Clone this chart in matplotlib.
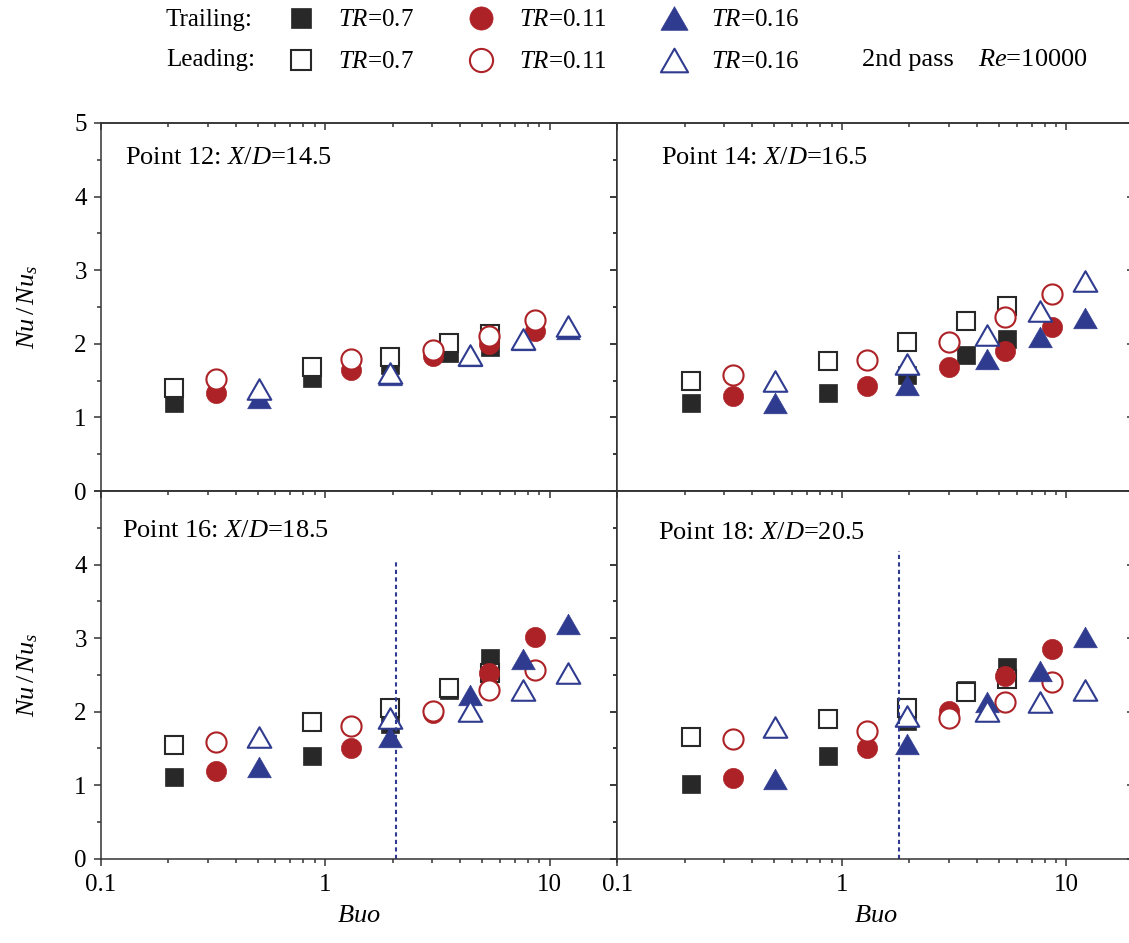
import numpy as np
import matplotlib
matplotlib.use('Agg')
import matplotlib.pyplot as plt
from matplotlib.path import Path
from matplotlib.ticker import FixedLocator, NullFormatter, MultipleLocator, LogLocator

config = {
    "font.family": 'Liberation Serif',
    "mathtext.fontset": 'custom',
    "mathtext.rm": 'Liberation Serif',
    "mathtext.it": 'Liberation Serif:italic',
    "axes.unicode_minus": False,
}
plt.rcParams.update(config)

# Buo positions of each TR series (same in all four panels)
buo_07 = [0.213, 0.87, 1.95, 3.57, 5.44]
buo_011 = [0.326, 1.30, 3.01, 5.35, 8.62]
buo_016 = [0.505, 1.95, 4.42, 7.59, 12.1]

titles = ['Point 12: $X/D$=14.5', 'Point 14: $X/D$=16.5',
          'Point 16: $X/D$=18.5', 'Point 18: $X/D$=20.5']

# trailing (filled) / leading (open) Nu/Nus, per point
tr07_trail = [[1.19, 1.53, 1.71, 1.88, 1.96], [1.20, 1.33, 1.57, 1.85, 2.06],
              [1.11, 1.39, 1.83, 2.30, 2.73], [1.02, 1.40, 1.87, 2.30, 2.61]]
tr07_lead = [[1.40, 1.69, 1.82, 2.01, 2.13], [1.49, 1.77, 2.02, 2.31, 2.52],
             [1.55, 1.86, 2.05, 2.32, 2.53], [1.66, 1.90, 2.05, 2.26, 2.45]]
tr011_trail = [[1.33, 1.65, 1.83, 2.00, 2.17], [1.29, 1.43, 1.68, 1.90, 2.23],
               [1.19, 1.51, 1.98, 2.53, 3.02], [1.10, 1.51, 2.01, 2.48, 2.85]]
tr011_lead = [[1.52, 1.79, 1.91, 2.10, 2.32], [1.57, 1.78, 2.02, 2.36, 2.67],
              [1.59, 1.80, 2.01, 2.29, 2.56], [1.63, 1.74, 1.92, 2.13, 2.40]]
tr016_trail = [[1.27, 1.57, 1.83, 2.05, 2.20], [1.20, 1.44, 1.79, 2.09, 2.35],
               [1.25, 1.65, 2.23, 2.72, 3.19], [1.09, 1.56, 2.13, 2.55, 3.02]]
tr016_lead = [[1.39, 1.60, 1.85, 2.07, 2.24], [1.50, 1.73, 2.12, 2.45, 2.85],
              [1.65, 1.92, 2.01, 2.29, 2.53], [1.79, 1.94, 2.01, 2.13, 2.29]]

# dotted marks in the lower panels: Buo, top of line
vline_buo = [None, None, 2.07, 1.80]
vline_top = [None, None, 4.08, 4.18]

c_k = '#282828'
c_r = '#ad2226'
c_b = '#2f3b8f'
c_ax = '#333333'
tri = Path([(-1.15, -1), (1.15, -1), (0, 1), (-1.15, -1)], closed=True)

fig = plt.figure(figsize=(11.29, 9.43), dpi=100)
W, H = 1129., 943.
pos = [(100.7, 123, 617.3, 491), (617.3, 123, 1134, 491),
       (100.7, 491, 617.3, 858.7), (617.3, 491, 1134, 858.7)]
axs = []
for (x0, y0, x1, y1) in pos:
    axs.append(fig.add_axes([x0 / W, (H - y1) / H, (x1 - x0) / W, (y1 - y0) / H]))

handles = []
for i, ax in enumerate(axs):
    h1, = ax.plot(buo_07, tr07_trail[i], ls='none', marker='s', ms=13, mfc=c_k, mec=c_k, mew=0.5)
    h2, = ax.plot(buo_07, tr07_lead[i], ls='none', marker='s', ms=13, mfc='white', mec=c_k, mew=1.5)
    h3, = ax.plot(buo_011, tr011_trail[i], ls='none', marker='o', ms=14.5, mfc=c_r, mec=c_r, mew=0.5)
    h4, = ax.plot(buo_011, tr011_lead[i], ls='none', marker='o', ms=14.5, mfc='white', mec=c_r, mew=1.5)
    h5, = ax.plot(buo_016, tr016_trail[i], ls='none', marker=tri, ms=17, mfc=c_b, mec=c_b, mew=0.5)
    h6, = ax.plot(buo_016, tr016_lead[i], ls='none', marker=tri, ms=17, mfc='white', mec=c_b, mew=1.5)
    if i == 0:
        handles = [h1, h2, h3, h4, h5, h6]
    if vline_buo[i] is not None:
        ax.vlines(vline_buo[i], 0, vline_top[i], colors=c_b, linestyles=(0, (2, 1.6)), lw=1.5)

    ax.set_xscale('log')
    ax.set_xlim(0.1, 20)
    ax.set_ylim(0, 5)
    ax.xaxis.set_major_locator(FixedLocator([0.1, 1, 10]))
    ax.yaxis.set_major_locator(MultipleLocator(1))
    ax.yaxis.set_minor_locator(MultipleLocator(0.5))
    # left/bottom ticks point out
    ax.tick_params(which='both', direction='out', top=False, right=False,
                   labelsize=18, width=1.1, color=c_ax)
    ax.tick_params(which='major', length=5)
    ax.tick_params(which='minor', length=3)
    ax.tick_params(axis='y', pad=5)
    ax.tick_params(axis='x', pad=6)
    for sp in ax.spines.values():
        sp.set_linewidth(1.1)
        sp.set_color(c_ax)
    # top/right ticks point in
    sx = ax.secondary_xaxis('top')
    sx.xaxis.set_major_locator(FixedLocator([0.1, 1, 10]))
    sx.xaxis.set_minor_locator(LogLocator(subs=np.arange(2, 10)))
    sx.tick_params(which='both', direction='in', labeltop=False, width=1.1, color=c_ax)
    sx.tick_params(which='major', length=5)
    sx.tick_params(which='minor', length=3)
    sx.spines['top'].set_linewidth(1.1)
    sx.spines['top'].set_color(c_ax)
    sy = ax.secondary_yaxis('right')
    sy.yaxis.set_major_locator(MultipleLocator(1))
    sy.yaxis.set_minor_locator(MultipleLocator(0.5))
    sy.tick_params(which='both', direction='in', labelright=False, width=1.1, color=c_ax)
    sy.tick_params(which='major', length=5)
    sy.tick_params(which='minor', length=3)
    sy.spines['right'].set_linewidth(1.1)
    sy.spines['right'].set_color(c_ax)

    if i in (0, 2):
        ax.set_ylabel('$Nu\\,/\\,Nu_s$', fontsize=19)
        ax.yaxis.set_label_coords(-0.118, 0.5)
        if i == 2:
            ax.set_yticks([0, 1, 2, 3, 4, 5])
            ax.set_yticklabels(['0', '1', '2', '3', '4', ''])
    else:
        ax.yaxis.set_major_formatter(NullFormatter())
    if i in (2, 3):
        ax.set_xticklabels(['0.1', '1', '10'])
        ax.set_xlabel('$Buo$', fontsize=19)
        ax.xaxis.set_label_coords(0.5, -0.157)
        ax.xaxis.label.set_va('center')
    else:
        ax.xaxis.set_major_formatter(NullFormatter())
    ax.xaxis.set_minor_formatter(NullFormatter())

tx = [0.047, 0.085, 0.041, 0.079]
ty = [0.889, 0.889, 0.875, 0.869]
for i, ax in enumerate(axs):
    ax.text(tx[i], ty[i], titles[i], transform=ax.transAxes, fontsize=19, va='baseline', ha='left')

labels = ['$TR$=0.7', '$TR$=0.7', '$TR$=0.11', '$TR$=0.11', '$TR$=0.16', '$TR$=0.16']
fig.legend(handles, labels, ncol=3, loc='upper left', bbox_to_anchor=(288 / W, 1 - 9 / H),
           frameon=False, fontsize=18, handlelength=1.0, handletextpad=1.0, markerscale=1.15,
           columnspacing=2.2, labelspacing=0.78, borderpad=0, borderaxespad=0)
fig.text(166 / W, 1 - 20 / H, 'Trailing:', fontsize=18, va='center', ha='left')
fig.text(166 / W, 1 - 60 / H, 'Leading:', fontsize=18, va='center', ha='left')
fig.text(862 / W, 1 - 60 / H, '2nd pass', fontsize=19, va='center', ha='left')
fig.text(978 / W, 1 - 60 / H, '$Re$=10000', fontsize=19, va='center', ha='left')

fig.savefig('out.png', dpi=100)
